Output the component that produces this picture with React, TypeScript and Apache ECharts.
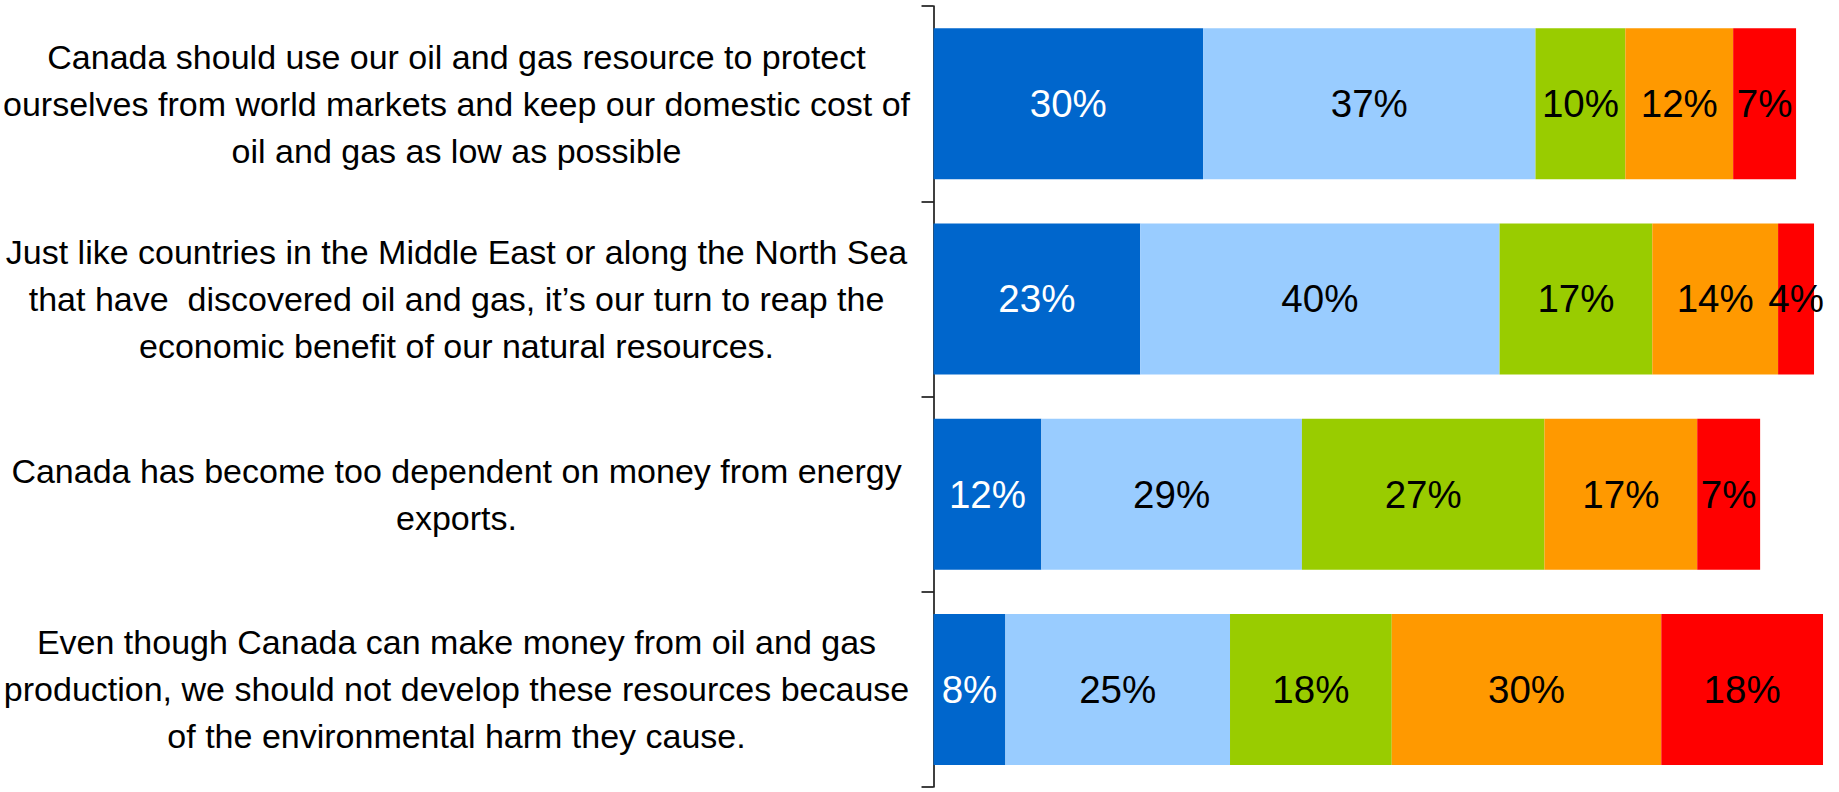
import React, { useEffect, useRef } from "react";
import * as echarts from "echarts";

const categories = [
  "Canada should use our oil and gas resource to protect\nourselves from world markets and keep our domestic cost of\noil and gas as low as possible",
  "Just like countries in the Middle East or along the North Sea\nthat have  discovered oil and gas, it\u2019s our turn to reap the\neconomic benefit of our natural resources.",
  "Canada has become too dependent on money from energy\nexports.",
  "Even though Canada can make money from oil and gas\nproduction, we should not develop these resources because\nof the environmental harm they cause.",
];

const seriesNames = [
  "Strongly agree",
  "Somewhat agree",
  "Neutral",
  "Somewhat disagree",
  "Strongly disagree",
];

const stronglyAgree = [30, 23, 12, 8];
const somewhatAgree = [37, 40, 29, 25];
const neutral = [10, 17, 27, 18];
const somewhatDisagree = [12, 14, 17, 30];
const stronglyDisagree = [7, 4, 7, 18];

const seriesValues = [stronglyAgree, somewhatAgree, neutral, somewhatDisagree, stronglyDisagree];
const seriesColors = ["#0066CC", "#99CCFF", "#99CC00", "#FF9900", "#FF0000"];
const labelColors = ["#FFFFFF", "#000000", "#000000", "#000000", "#000000"];

export default function App() {
  const ref = useRef<HTMLDivElement>(null);

  useEffect(() => {
    if (!ref.current) return;
    const chart = echarts.init(ref.current, undefined, { renderer: "svg" });
    const font = "'Liberation Sans', Arial, Helvetica, sans-serif";
    chart.setOption({
      animation: false,
      backgroundColor: "#FFFFFF",
      grid: { left: 932, right: 7, top: 6, bottom: 5, containLabel: false },
      xAxis: {
        type: "value",
        min: 0,
        max: 100,
        show: false,
      },
      yAxis: {
        type: "category",
        inverse: true,
        data: categories,
        axisLine: { show: true, lineStyle: { color: "#000000", width: 1.5 } },
        axisTick: { show: true, length: 12, lineStyle: { color: "#000000", width: 1.5 } },
        axisLabel: {
          interval: 0,
          margin: 477,
          align: "center",
          color: "#000000",
          fontFamily: font,
          fontSize: 34,
          lineHeight: 47,
        },
        splitLine: { show: false },
      },
      series: seriesValues.map((vals, i) => ({
        name: seriesNames[i],
        type: "bar",
        stack: "total",
        data: vals,
        barWidth: 151,
        itemStyle: { color: seriesColors[i] },
        label: {
          show: true,
          position: "inside",
          formatter: "{c}%",
          color: labelColors[i],
          fontFamily: font,
          fontSize: 38.5,
          textBorderWidth: 0,
        },
      })),
    });
    return () => chart.dispose();
  }, []);

  return (
    <div
      ref={ref}
      style={{ position: "fixed", left: 0, top: 0, width: 1839, height: 792 }}
    />
  );
}
